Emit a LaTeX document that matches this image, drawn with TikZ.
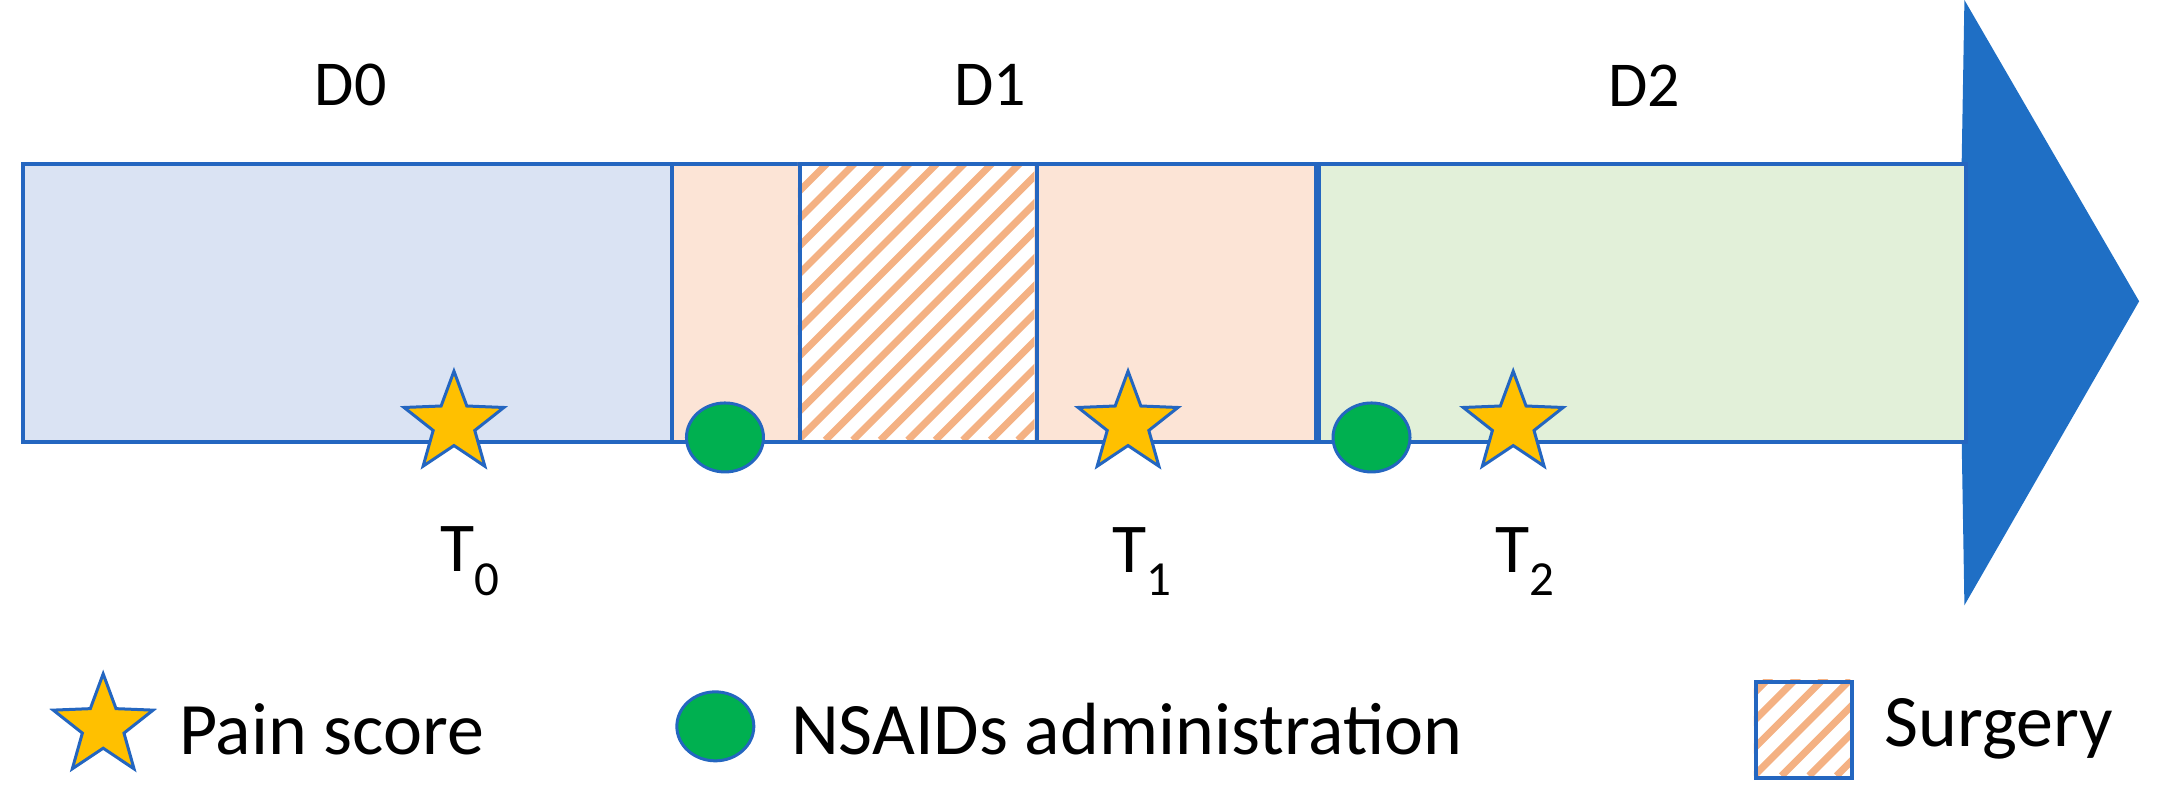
\documentclass[tikz,border=0pt]{standalone}
\usepackage{fontspec}
\setmainfont{Carlito}
\usetikzlibrary{shapes.geometric}
\definecolor{edge}{HTML}{2466C0}
\definecolor{dzero}{HTML}{DAE3F3}
\definecolor{done}{HTML}{FCE4D6}
\definecolor{dtwo}{HTML}{E2F0D9}
\definecolor{arr}{HTML}{1F6FC5}
\definecolor{gold}{HTML}{FFC000}
\definecolor{grn}{HTML}{00B050}
\definecolor{hatch}{HTML}{F4B183}
\begin{document}
\begin{tikzpicture}[x=1.376pt,y=-1.376pt,
  seg/.style={draw=edge,line width=4pt},
  st/.style={star,star points=5,star point ratio=2.4,minimum size=105pt,fill=gold,draw=edge,line width=3pt,inner sep=0pt},
  dot/.style={ellipse,minimum width=77pt,minimum height=69pt,fill=grn,draw=edge,line width=3pt,inner sep=0pt},
  lab/.style={font=\fontsize{64}{70}\selectfont,inner sep=0pt},
  tlab/.style={font=\fontsize{70}{76}\selectfont,inner sep=0pt},
  leg/.style={font=\fontsize{74}{80}\selectfont,inner sep=0pt},
  hatchbox/.style={line width=7pt,draw=hatch}]
\useasboundingbox (0,0) rectangle (1568,587);
\fill[arr] (1426,118) -- (1428,0) -- (1555,219) -- (1428,440) -- (1426,320) -- cycle;
\node[seg,fill=dzero,minimum width=650pt,minimum height=278pt,anchor=north west,inner sep=0pt] (d0) at (15,118) {};
\node[seg,fill=done,minimum width=644pt,minimum height=278pt,anchor=north west,inner sep=0pt] (d1) at (487,118) {};
\node[seg,fill=dtwo,minimum width=648pt,minimum height=278pt,anchor=north west,inner sep=0pt] (d2) at (957,118) {};
% surgery hatch
\begin{scope}
\clip (580,118) rectangle (752,320);
\fill[white] (580,118) rectangle (752,320);
\foreach \i in {-12,...,20} \draw[hatchbox] (580+\i*20,320) -- ++(205,-205);
\end{scope}
\node[seg,minimum width=237pt,minimum height=278pt,anchor=north west,inner sep=0pt] (surg) at (580,118) {};
\node[lab] (l0) at (255,62) {D0};
\node[lab] (l1) at (720,62) {D1};
\node[lab] (l2) at (1195,62) {D2};
\node[st] (s0) at (330,308) {};
\node[st] (s1) at (820,308) {};
\node[st] (s2) at (1100,308) {};
\node[dot] (c0) at (527,318) {};
\node[dot] (c1) at (997,318) {};
\node[tlab] (t0) at (342,408) {T\textsubscript{0}};
\node[tlab] (t1) at (830,408) {T\textsubscript{1}};
\node[tlab] (t2) at (1109,408) {T\textsubscript{2}};
% legend
\node[st] (ls) at (75,528) {};
\node[leg,anchor=west] (lst) at (130,530) {Pain score};
\node[dot] (lc) at (520,528) {};
\node[leg,anchor=west] (lct) at (575,530) {NSAIDs administration};
\begin{scope}
\clip (1275,494) rectangle (1345,564);
\foreach \i in {-6,...,8} \draw[hatchbox] (1275+\i*20,564) -- ++(90,-90);
\end{scope}
\node[seg,minimum width=96pt,minimum height=96pt,anchor=north west,inner sep=0pt] (lsq) at (1275,494) {};
\node[leg,anchor=west] (lsqt) at (1370,530) {Surgery};
\end{tikzpicture}
\end{document}
